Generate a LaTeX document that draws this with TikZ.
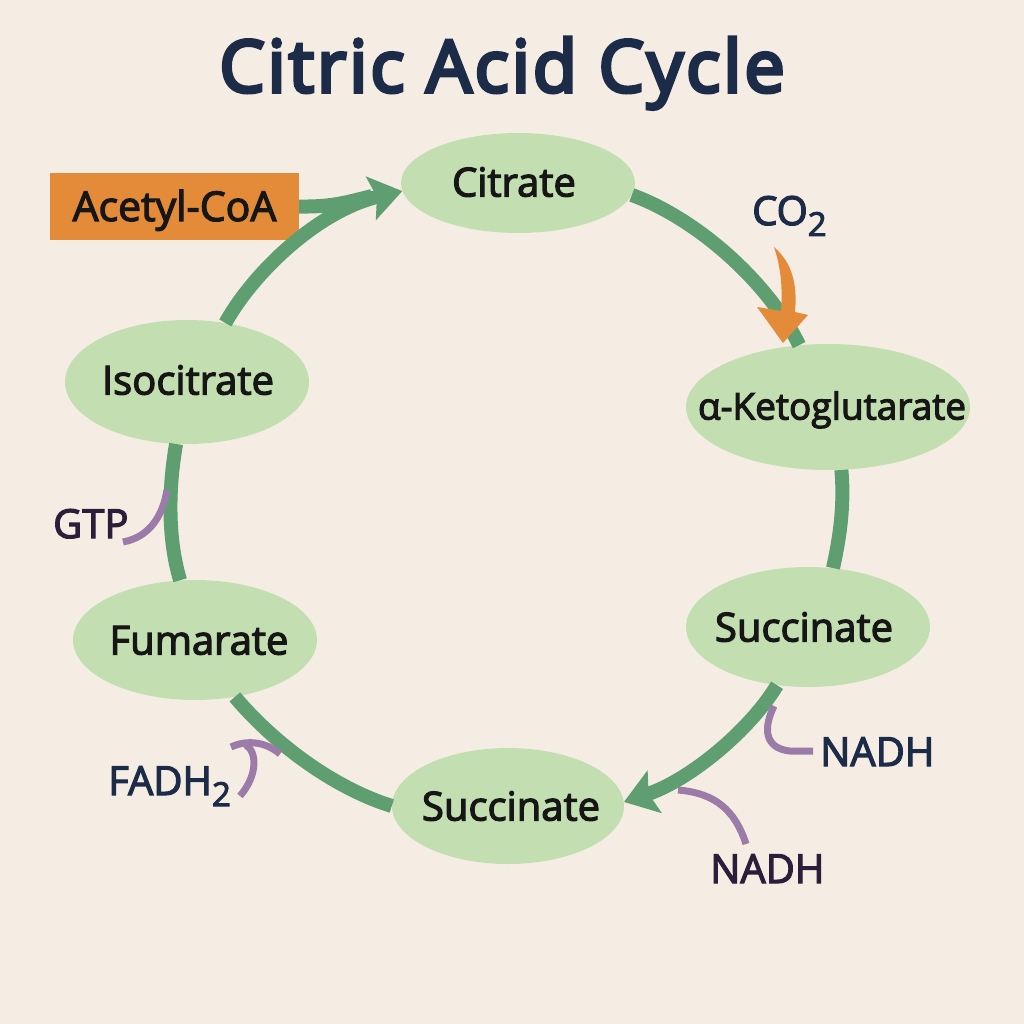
\documentclass[tikz,border=0pt]{standalone}
\usepackage{fontspec}
\setmainfont{Open Sans}
\newfontfamily\mfont{Open Sans}[FakeBold=3]
\newfontfamily\tfont{Open Sans}[FakeBold=5,LetterSpace=4]
\usetikzlibrary{shapes.geometric,arrows.meta}
\definecolor{bgc}{HTML}{F5EDE3}
\definecolor{nodeg}{HTML}{C3DFB2}
\definecolor{garr}{HTML}{5F9E71}
\definecolor{parr}{HTML}{9B7BA8}
\definecolor{orng}{HTML}{E48B3A}
\definecolor{navy}{HTML}{1C2B48}
\definecolor{dpurp}{HTML}{2E1C3B}
\definecolor{ink}{HTML}{161616}
\tikzset{
  cyc/.style={ellipse, fill=nodeg, draw=none, inner sep=0pt},
  ntxt/.style={font=\mfont\fontsize{40}{48}\selectfont, text=ink, inner sep=0pt, text height=29pt, text depth=0pt},
  lbl/.style={font=\mfont\fontsize{40}{48}\selectfont, inner sep=0pt, anchor=base west},
  garrow/.style={draw=garr, line width=14pt},
  parrow/.style={draw=parr, line width=7pt},
}
\newcommand{\subtwo}{\raisebox{-11pt}{\fontsize{33}{33}\selectfont 2}}
\begin{document}
\begin{tikzpicture}[x=1pt,y=-1pt]
\fill[bgc] (0,0) rectangle (1024,1024);
\useasboundingbox (0,0) rectangle (1024,1024);

% title
\node[font=\tfont\fontsize{72}{84}\selectfont, text=navy, anchor=base, inner sep=0pt] (title) at (502,92) {Citric Acid Cycle};

% cycle nodes
\node[cyc, minimum width=234pt, minimum height=100pt] (cit) at (518,183) {};
\node[cyc, minimum width=244pt, minimum height=124pt] (iso) at (187,382) {};
\node[cyc, minimum width=284pt, minimum height=126pt] (akg) at (828,407) {};
\node[cyc, minimum width=244pt, minimum height=120pt] (suc1) at (808,627) {};
\node[cyc, minimum width=232pt, minimum height=116pt] (suc2) at (508,806) {};
\node[cyc, minimum width=244pt, minimum height=120pt] (fum) at (195,640) {};

\node[ntxt] (citT) at (514,182) {Citrate};
\node[ntxt] (isoT) at (188,380) {Isocitrate};
\node[ntxt, font=\mfont\fontsize{37}{44}\selectfont] (akgT) at (832,405) {α-Ketoglutarate};
\node[ntxt] (suc1T) at (804,627) {Succinate};
\node[ntxt] (suc2T) at (511,806) {Succinate};
\node[ntxt] (fumT) at (199,640) {Fumarate};

% acetyl-CoA box
\node[fill=orng, minimum width=249pt, minimum height=67pt, inner sep=0pt, font=\mfont\fontsize{41}{48}\selectfont, text=ink, text height=29pt, text depth=0pt] (acetyl) at (174.5,206.5) {Acetyl-CoA};

% green cycle connectors
\coordinate (merge) at (372,196);
\draw[garrow] (acetyl.east) .. controls (330,207) and (345,203) .. (merge);
\draw[garrow, -{Stealth[length=32pt,width=44pt,inset=6pt]}] (iso.57) .. controls (255,270) and (320,210) .. (cit.184);
\draw[garrow] (cit.-6) .. controls (700,220) and (770,285) .. (akg.115);
\draw[garrow] (akg.-78) .. controls (845,510) and (838,545) .. (suc1.67);
\draw[garrow, -{Stealth[length=32pt,width=44pt,inset=6pt]}] (suc1.-118) .. controls (750,730) and (690,780) .. (suc2.2);
\draw[garrow] (suc2.180) .. controls (340,790) and (280,750) .. (fum.-55);
\draw[garrow] (fum.104) .. controls (168,540) and (168,490) .. (iso.-100);

% CO2
\node[lbl, text=navy] (co2) at (752,225) {CO\subtwo};
\fill[orng] (774,247) .. controls (795,265) and (797,290) .. (795,312)
  -- (808,315) -- (783,343) -- (757,307) -- (781,311)
  .. controls (783,285) and (780,265) .. (774,247) -- cycle;

% side products
\node[lbl, text=dpurp] (gtp) at (53,538) {GTP};
\coordinate (gtpS) at (123,542);
\coordinate (gtpE) at (167,490);
\draw[parrow] (gtpS) .. controls (150,537) and (163,515) .. (gtpE);

\node[lbl, text=navy] (fadh) at (108,795) {FADH\subtwo};
\coordinate (fadhS) at (240,796);
\coordinate (fadhT) at (231,747);
\coordinate (fadhE) at (280,754);
\draw[parrow] (fadhS) .. controls (258,775) and (257,752) .. (246,745);
\draw[parrow] (fadhT) .. controls (246,740) and (265,741) .. (fadhE);

\node[lbl, text=navy] (nadh1) at (820,766) {NADH};
\coordinate (n1S) at (813,751);
\coordinate (n1E) at (774,706);
\draw[parrow] (n1S) -- (790,751) .. controls (770,749) and (760,735) .. (n1E);

\node[lbl, text=dpurp] (nadh2) at (710,883) {NADH};
\coordinate (n2S) at (746,844);
\coordinate (n2E) at (678,790);
\draw[parrow] (n2S) .. controls (735,810) and (715,793) .. (n2E);
\end{tikzpicture}
\end{document}
